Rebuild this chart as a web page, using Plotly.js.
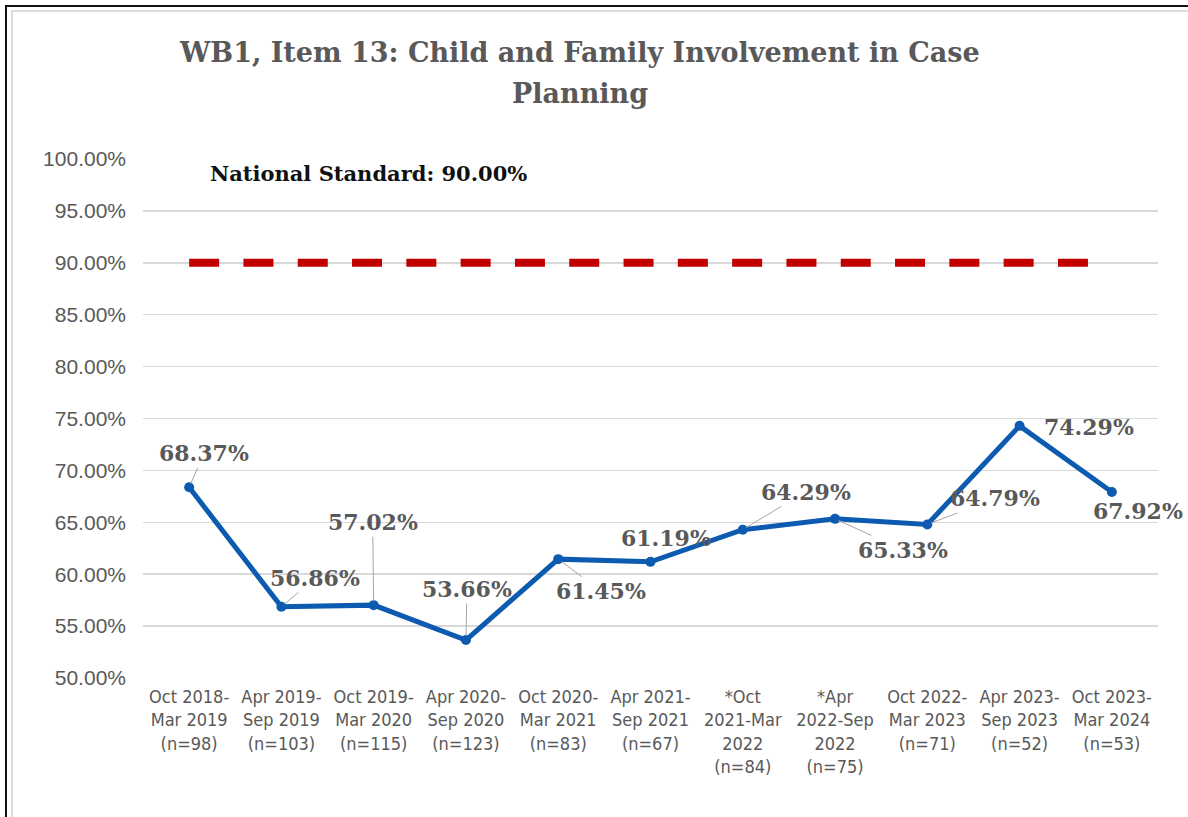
<!DOCTYPE html>
<html>
<head>
<meta charset="utf-8">
<script src="https://cdn.plot.ly/plotly-3.0.1.min.js"></script>
<style>
  html, body { margin: 0; padding: 0; background: #fff; }
  #wrap { position: relative; width: 1188px; height: 817px; overflow: hidden; }
  #chart { position: absolute; left: 0; top: 0; width: 1188px; height: 817px; }
  .frame { position: absolute; pointer-events: none; }
</style>
</head>
<body>
<div id="wrap">
  <div id="chart"></div>
  <div class="frame" style="left:5px;top:5px;width:1183px;height:2px;background:#111;"></div>
  <div class="frame" style="left:5px;top:5px;width:2px;height:812px;background:#111;"></div>
  <div class="frame" style="left:11px;top:10px;width:1177px;height:2px;background:#dcdcdc;"></div>
  <div class="frame" style="left:11px;top:10px;width:2px;height:807px;background:#dcdcdc;"></div>
</div>
<script>
// ---- data ----
var categories = [
  "Oct 2018-<br>Mar 2019<br>(n=98)",
  "Apr 2019-<br>Sep 2019<br>(n=103)",
  "Oct 2019-<br>Mar 2020<br>(n=115)",
  "Apr 2020-<br>Sep 2020<br>(n=123)",
  "Oct 2020-<br>Mar 2021<br>(n=83)",
  "Apr 2021-<br>Sep 2021<br>(n=67)",
  "*Oct<br>2021-Mar<br>2022<br>(n=84)",
  "*Apr<br>2022-Sep<br>2022<br>(n=75)",
  "Oct 2022-<br>Mar 2023<br>(n=71)",
  "Apr 2023-<br>Sep 2023<br>(n=52)",
  "Oct 2023-<br>Mar 2024<br>(n=53)"
];
var performance = [68.37, 56.86, 57.02, 53.66, 61.45, 61.19, 64.29, 65.33, 64.79, 74.29, 67.92];
var nationalStandard = [90, 90, 90, 90, 90, 90, 90, 90, 90, 90, 90];
var titleLines = ["WB1, Item 13: Child and Family Involvement in Case", "Planning"];
var standardLabel = "National Standard: 90.00%";

// ---- label placement (pixel offsets of label centre from its point) ----
var labelDX = [15, 34, -1, 1, 43, 15, 63, 68, 68, 69, 26];
var labelDY = [-34, -29, -83, -51, 32, -24, -38, 31, -26, 1, 19];
var showLeader = [true, true, true, true, true, false, true, true, true, false, false];

var serif = "DejaVu Serif, Liberation Serif, serif";
var labelColor = "#595959";

var annotations = performance.map(function (v, i) {
  return {
    x: categories[i], y: v, xref: "x", yref: "y",
    text: v.toFixed(2) + "%",
    showarrow: true, arrowhead: 0, arrowwidth: 1,
    arrowcolor: showLeader[i] ? "#a6a6a6" : "rgba(0,0,0,0)",
    standoff: 4,
    ax: labelDX[i], ay: labelDY[i],
    font: { family: serif, size: 22, color: labelColor, weight: "bold" }
  };
});
annotations.push({
  x: 0.222, y: 98.65, xref: "paper", yref: "y",
  text: standardLabel, showarrow: false, xanchor: "center", yanchor: "middle",
  font: { family: serif, size: 21, color: "#111111", weight: "bold" }
});
// chart title, two lines
var titleY = [1.206, 1.127];
titleLines.forEach(function (t, i) {
  annotations.push({
    x: 0.4305, y: titleY[i], xref: "paper", yref: "paper",
    text: t, showarrow: false, xanchor: "center", yanchor: "middle",
    font: { family: serif, size: 27, color: "#595959", weight: "bold" }
  });
});

var traces = [
  {
    x: categories, y: nationalStandard, type: "scatter", mode: "lines",
    line: { color: "#c00000", width: 8, dash: "30px,24.3px" },
    hoverinfo: "skip", showlegend: false
  },
  {
    x: categories, y: performance, type: "scatter", mode: "lines+markers",
    line: { color: "#0d5bb0", width: 5 },
    marker: { color: "#0d5bb0", size: 10 },
    showlegend: false
  }
];

var layout = {
  width: 1188, height: 817,
  paper_bgcolor: "rgba(0,0,0,0)", plot_bgcolor: "#ffffff",
  margin: { l: 143, r: 30, t: 159, b: 139, autoexpand: false },
  xaxis: {
    type: "category", range: [-0.5, 10.5], tickangle: 0,
    showgrid: false, showline: false, zeroline: false, ticks: "",
    ticklabelstandoff: 6,
    tickfont: { family: "Liberation Sans Narrow, DejaVu Sans Condensed, Liberation Sans, sans-serif", size: 18, color: "#595959" },
    fixedrange: true
  },
  yaxis: {
    range: [50, 100], dtick: 5, tick0: 50, tickformat: ".2f", ticksuffix: "%",
    showgrid: true, gridcolor: "#d9d9d9", gridwidth: 1.5,
    showline: false, zeroline: false, ticks: "",
    ticklabelstandoff: 16,
    tickfont: { family: "Liberation Sans, Arial, sans-serif", size: 21, color: "#595959" },
    fixedrange: true
  },
  annotations: annotations,
  showlegend: false
};

Plotly.newPlot("chart", traces, layout, { displayModeBar: false, staticPlot: true });
</script>
</body>
</html>
